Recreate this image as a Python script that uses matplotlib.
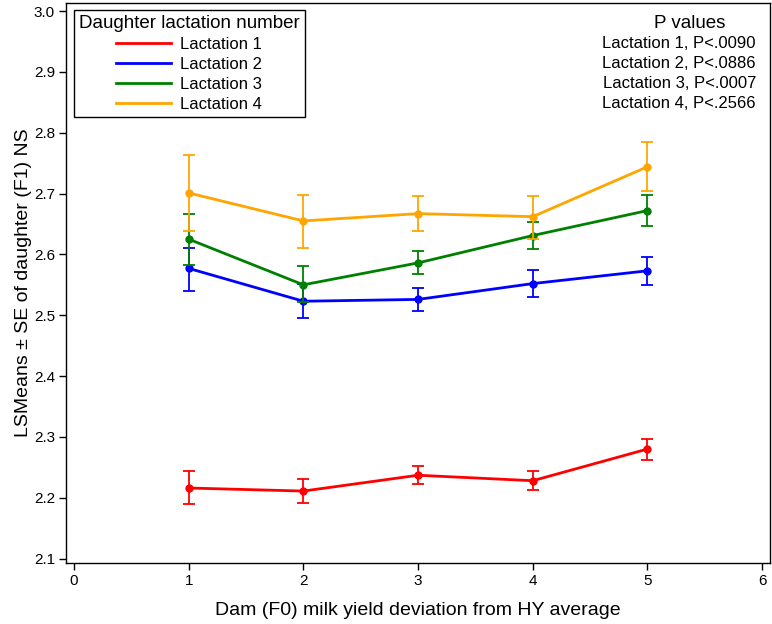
import numpy as np
import matplotlib
matplotlib.use("Agg")
import matplotlib.pyplot as plt

plt.rcParams['font.family'] = ['Liberation Sans', 'DejaVu Sans']

# dam milk yield deviation classes
x = [1, 2, 3, 4, 5]

# LSMeans and SE-bar ends for each daughter lactation
lact1 = [2.216, 2.211, 2.237, 2.228, 2.280]
lact1_lo = [2.189, 2.191, 2.223, 2.212, 2.262]
lact1_hi = [2.244, 2.231, 2.252, 2.244, 2.297]

lact2 = [2.577, 2.523, 2.526, 2.552, 2.573]
lact2_lo = [2.540, 2.495, 2.507, 2.530, 2.549]
lact2_hi = [2.610, 2.551, 2.545, 2.574, 2.596]

lact3 = [2.625, 2.550, 2.586, 2.631, 2.672]
lact3_lo = [2.583, 2.522, 2.568, 2.609, 2.647]
lact3_hi = [2.667, 2.581, 2.605, 2.653, 2.698]

lact4 = [2.701, 2.655, 2.667, 2.662, 2.744]
lact4_lo = [2.639, 2.610, 2.638, 2.626, 2.704]
lact4_hi = [2.763, 2.698, 2.696, 2.696, 2.784]

labels = ['Lactation 1', 'Lactation 2', 'Lactation 3', 'Lactation 4']
colors = ['#ff0000', '#0000ff', '#008000', '#ffa500']
p_text = ['Lactation 1, P<.0090', 'Lactation 2, P<.0886',
          'Lactation 3, P<.0007', 'Lactation 4, P<.2566']

fig = plt.figure(figsize=(7.72, 6.24), dpi=100)
ax = fig.add_axes([0.0855, 0.098, 0.912, 0.897])

series = [(lact1, lact1_lo, lact1_hi), (lact2, lact2_lo, lact2_hi),
          (lact3, lact3_lo, lact3_hi), (lact4, lact4_lo, lact4_hi)]

for (m, lo, hi), c, lab in zip(series, colors, labels):
    m = np.array(m)
    err = [m - np.array(lo), np.array(hi) - m]
    ax.errorbar(x, m, yerr=err, fmt='none', ecolor=c, elinewidth=1.3,
                capsize=4.5, capthick=1.3)
    ax.plot(x, m, color=c, lw=2, marker='o', ms=5, label=lab)

ax.set_xlim(-0.07, 6.07)
ax.set_ylim(2.093, 3.013)
ax.set_xticks(range(0, 7))
yt = np.arange(2.1, 3.01, 0.1)
ax.set_yticks(yt)
ax.set_yticklabels(['%.1f' % v for v in yt])
ax.tick_params(direction='out', length=5, width=1, labelsize=11, pad=3)
for t in ax.get_xticklabels() + ax.get_yticklabels():
    t.set_family(['Liberation Sans Narrow', 'Liberation Sans'])
for s in ax.spines.values():
    s.set_linewidth(1)

ax.set_xlabel('Dam (F0) milk yield deviation from HY average', fontsize=14, labelpad=10)
ax.set_ylabel('LSMeans ± SE of daughter (F1) NS', fontsize=14, labelpad=1)

leg = ax.legend(handles=[plt.Line2D([], [], color=c, lw=2) for c in colors],
                labels=labels, title='Daughter lactation number',
                loc='upper left', bbox_to_anchor=(0.011, 0.987),
                fontsize=12, title_fontsize=13.5, handlelength=3.3,
                handletextpad=0.5, borderpad=0.3, labelspacing=0.29,
                borderaxespad=0, frameon=True, fancybox=False,
                edgecolor='black', framealpha=1)
leg.get_frame().set_linewidth(1)

ax.text(0.886, 0.964, 'P values', transform=ax.transAxes, ha='center',
        va='center', fontsize=13.5)
for i, t in enumerate(p_text):
    ax.text(0.980, 0.9286 - i * 0.0357, t, transform=ax.transAxes, ha='right',
            va='center', fontsize=12)

fig.savefig('out.png', dpi=100)
